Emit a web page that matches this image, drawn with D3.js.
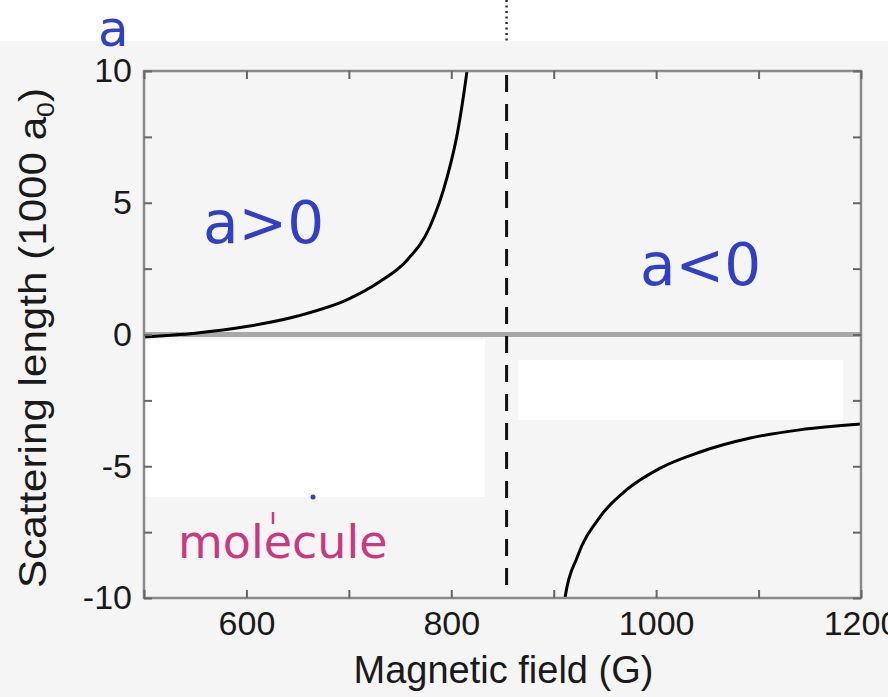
<!DOCTYPE html>
<html>
<head>
<meta charset="utf-8">
<script src="https://cdn.jsdelivr.net/npm/d3@7"></script>
<style>
  body { margin: 0; background: #fff; }
  svg { display: block; }
</style>
</head>
<body>
<div id="chart"></div>
<script>
// curve: magnetic field (G) and scattering length (1000 a0)
const lowFieldB = [496, 550, 600, 650, 700, 730, 757, 779, 796, 806, 815, 818];
const lowFieldA = [-0.1, 0.05, 0.3, 0.7, 1.35, 2.0, 2.83, 4.08, 5.98, 7.65, 9.9, 10.8];
const highFieldB = [909, 911, 923, 945, 971, 1004, 1043, 1092, 1140, 1200];
const highFieldA = [-10.6, -10, -8.44, -6.93, -5.9, -5.07, -4.46, -3.93, -3.62, -3.4];
const resonanceB = 854;

const xTicks = [500, 600, 700, 800, 900, 1000, 1100, 1200];
const xLabels = [600, 800, 1000, 1200];
const yTicks = [-10, -7.5, -5, -2.5, 0, 2.5, 5, 7.5, 10];
const yLabels = [-10, -5, 0, 5, 10];

const width = 888, height = 697;
const plot = { left: 144, right: 861, top: 71, bottom: 598 };

const x = d3.scaleLinear().domain([500, 1200]).range([plot.left, plot.right]);
const y = d3.scaleLinear().domain([-10, 10]).range([plot.bottom, plot.top]);

const svg = d3.select("#chart").append("svg")
  .attr("width", width)
  .attr("height", height);

// scanned-paper look: light grey page, white strip on top
svg.append("rect").attr("width", width).attr("height", height).attr("fill", "#f5f5f5");
svg.append("rect").attr("width", width).attr("height", 41).attr("fill", "#ffffff");

// white patches covering erased labels
svg.append("rect").attr("x", 145).attr("y", 340).attr("width", 340).attr("height", 157).attr("fill", "#fff");
svg.append("rect").attr("x", 518).attr("y", 360).attr("width", 325).attr("height", 60).attr("fill", "#fff");

svg.append("defs").append("clipPath").attr("id", "plotClip")
  .append("rect")
  .attr("x", plot.left).attr("y", plot.top)
  .attr("width", plot.right - plot.left).attr("height", plot.bottom - plot.top);

// zero line
svg.append("line")
  .attr("x1", x(500)).attr("x2", x(1200))
  .attr("y1", y(0)).attr("y2", y(0))
  .attr("stroke", "#a8a8a8")
  .attr("stroke-width", 5);

// resonance: dashed inside, dotted above the frame
svg.append("line")
  .attr("x1", x(resonanceB)).attr("x2", x(resonanceB))
  .attr("y1", plot.top + 4).attr("y2", plot.bottom - 6)
  .attr("stroke", "#111")
  .attr("stroke-width", 3)
  .attr("stroke-dasharray", "17,12");

svg.append("line")
  .attr("x1", x(resonanceB)).attr("x2", x(resonanceB))
  .attr("y1", 0).attr("y2", 42)
  .attr("stroke", "#333")
  .attr("stroke-width", 2.5)
  .attr("stroke-dasharray", "2,3.5");

const line = d3.line()
  .x((d) => x(d[0]))
  .y((d) => y(d[1]))
  .curve(d3.curveMonotoneX);

const curves = svg.append("g").attr("clip-path", "url(#plotClip)");
[[lowFieldB, lowFieldA], [highFieldB, highFieldA]].forEach(function (pair) {
  curves.append("path")
    .datum(d3.zip(pair[0], pair[1]))
    .attr("fill", "none")
    .attr("stroke", "#000")
    .attr("stroke-width", 3)
    .attr("d", line);
});

// frame
svg.append("rect")
  .attr("x", plot.left).attr("y", plot.top)
  .attr("width", plot.right - plot.left).attr("height", plot.bottom - plot.top)
  .attr("fill", "none")
  .attr("stroke", "#8a8a8a")
  .attr("stroke-width", 2.5);

const tickFont = "'Liberation Sans', Arial, sans-serif";

function styleAxis(g) {
  g.select(".domain").remove();
  g.selectAll(".tick line").attr("stroke", "#666").attr("stroke-width", 2);
  g.selectAll(".tick text").attr("fill", "#1a1a1a").attr("font-family", tickFont).attr("font-size", 34);
}

svg.append("g")
  .attr("transform", `translate(0,${plot.bottom})`)
  .call(d3.axisBottom(x).tickValues(xTicks).tickSize(-8).tickPadding(13)
    .tickFormat((d) => (xLabels.includes(d) ? d : "")))
  .call(styleAxis);

svg.append("g")
  .attr("transform", `translate(0,${plot.top})`)
  .call(d3.axisTop(x).tickValues(xTicks).tickSize(-8).tickFormat(""))
  .call(styleAxis);

svg.append("g")
  .attr("transform", `translate(${plot.left},0)`)
  .call(d3.axisLeft(y).tickValues(yTicks).tickSize(-8).tickPadding(12)
    .tickFormat((d) => (yLabels.includes(d) ? d : "")))
  .call(styleAxis);

svg.append("g")
  .attr("transform", `translate(${plot.right},0)`)
  .call(d3.axisRight(y).tickValues(yTicks).tickSize(-8).tickFormat(""))
  .call(styleAxis);

// axis titles
svg.append("text")
  .attr("x", (plot.left + plot.right) / 2 + 1)
  .attr("y", 683)
  .attr("text-anchor", "middle")
  .attr("font-family", tickFont)
  .attr("font-size", 38)
  .attr("fill", "#1a1a1a")
  .text("Magnetic field (G)");

const yTitle = svg.append("text")
  .attr("transform", "translate(46,338) rotate(-90)")
  .attr("text-anchor", "middle")
  .attr("font-family", tickFont)
  .attr("font-size", 38)
  .attr("fill", "#1a1a1a")
  .attr("textLength", 500)
  .attr("lengthAdjust", "spacingAndGlyphs");
yTitle.append("tspan").text("Scattering length (1000 a");
yTitle.append("tspan").attr("font-size", 24).attr("dy", 8).text("0");
yTitle.append("tspan").attr("dy", -8).text(")");

// annotations
const noteFont = "'DejaVu Sans', Verdana, sans-serif";
svg.append("text").attr("x", 98).attr("y", 46)
  .attr("font-family", noteFont).attr("font-size", 50).attr("fill", "#3040c8").text("a");
svg.append("text").attr("x", 203).attr("y", 243)
  .attr("font-family", noteFont).attr("font-size", 58).attr("fill", "#2f3fc6").text("a>0");
svg.append("text").attr("x", 640).attr("y", 285)
  .attr("font-family", noteFont).attr("font-size", 58).attr("fill", "#2f3fc6").text("a<0");
svg.append("text").attr("x", 178).attr("y", 558)
  .attr("font-family", noteFont).attr("font-size", 46).attr("fill", "#c8397f").text("molecule");

// leftover marks of erased labels
svg.append("line").attr("x1", 273).attr("x2", 273).attr("y1", 512).attr("y2", 524)
  .attr("stroke", "#c8397f").attr("stroke-width", 2.5);
svg.append("circle").attr("cx", 313).attr("cy", 497).attr("r", 2.5).attr("fill", "#3040c8");
</script>
</body>
</html>
